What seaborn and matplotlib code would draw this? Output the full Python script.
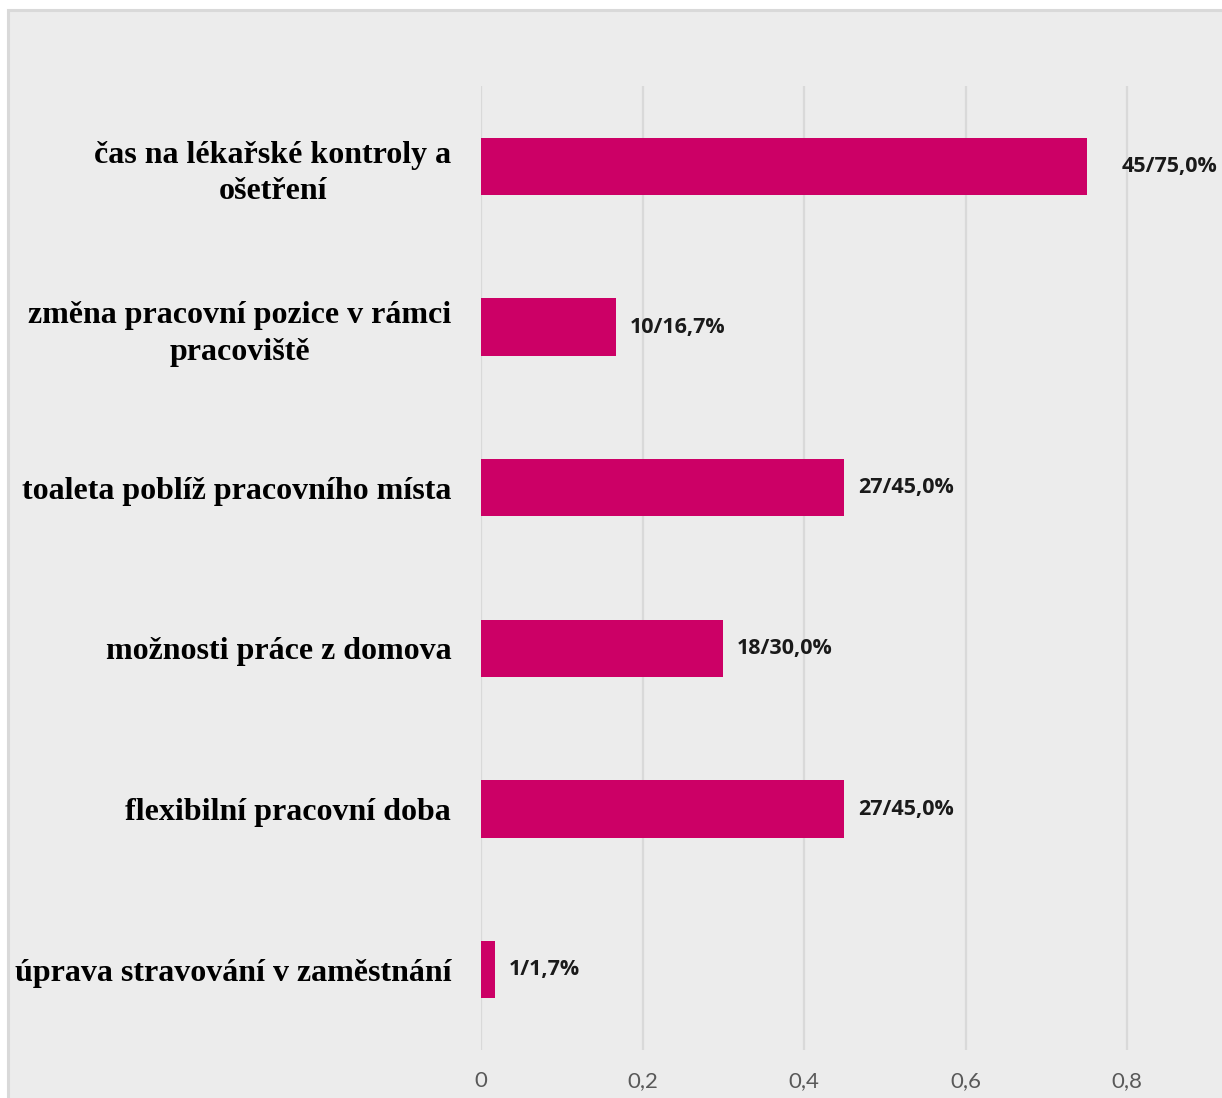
import matplotlib
matplotlib.use("Agg")
import matplotlib.pyplot as plt
from matplotlib.patches import Rectangle
import seaborn as sns
import pandas as pd

# Survey answers: workplace adjustments (share of 60 respondents)
categories = [
    "čas na lékařské kontroly a\nošetření",
    "změna pracovní pozice v rámci\npracoviště",
    "toaleta poblíž pracovního místa",
    "možnosti práce z domova",
    "flexibilní pracovní doba",
    "úprava stravování v zaměstnání",
]
counts = [45, 10, 27, 18, 27, 1]
shares = [0.75, 0.167, 0.45, 0.30, 0.45, 0.017]
value_labels = ["45/75,0%", "10/16,7%", "27/45,0%", "18/30,0%", "27/45,0%", "1/1,7%"]
x_ticks = [0, 0.2, 0.4, 0.6, 0.8]
x_tick_labels = ["0", "0,2", "0,4", "0,6", "0,8"]

df = pd.DataFrame({"kategorie": categories, "podil": shares})

W, H = 1222, 1098
BG = "#ECECEC"
BAR = "#CC0066"
GRID = "#D9D9D9"

sns.set_theme(style="white")
fig = plt.figure(figsize=(W / 100, H / 100), dpi=100, facecolor="white")

# light grey chart panel with a thin border
fig.patches.append(Rectangle((8 / W, -0.05), 1.1, (H - 10) / H + 0.05,
                             transform=fig.transFigure, facecolor=BG,
                             edgecolor=GRID, linewidth=2.2, zorder=-10))

ax = fig.add_axes([481 / W, 48 / H, (W - 481) / W, (1050 - 86) / H])
ax.set_facecolor("none")

sns.barplot(data=df, x="podil", y="kategorie", color=BAR, saturation=1,
            width=0.355, orient="h", ax=ax, zorder=3, linewidth=0)

ax.set_xlim(0, (W - 481) / 807.5)
ax.set_ylim(5.5, -0.5)

for s in ax.spines.values():
    s.set_visible(False)

ax.set_xticks(x_ticks)
ax.set_xticklabels(x_tick_labels, color="#595959", fontsize=16,
                   family=["Lato", "DejaVu Sans"], fontweight="normal")
ax.tick_params(axis="x", length=0, pad=15)
for xv in x_ticks:
    ax.axvline(xv, color=GRID, linewidth=1.6, zorder=1)

ax.set_yticks(range(len(categories)))
ax.set_yticklabels(categories, family=["Liberation Serif", "DejaVu Serif"],
                   fontweight="bold", fontsize=23, color="black",
                   multialignment="center", linespacing=1.32)
ax.tick_params(axis="y", length=0, pad=21.5)
ax.set_xlabel("")
ax.set_ylabel("")

# count / percentage labels next to each bar
for i, (v, lab) in enumerate(zip(shares, value_labels)):
    off = 35 if v > 0.7 else 14
    ax.annotate(lab, xy=(v, i), xytext=(off, 0), textcoords="offset pixels",
                ha="left", va="center", fontsize=15.5, fontweight="bold",
                family=["Open Sans", "DejaVu Sans"], color="#1a1a1a")

fig.savefig("out.png", dpi=100, facecolor="white")
